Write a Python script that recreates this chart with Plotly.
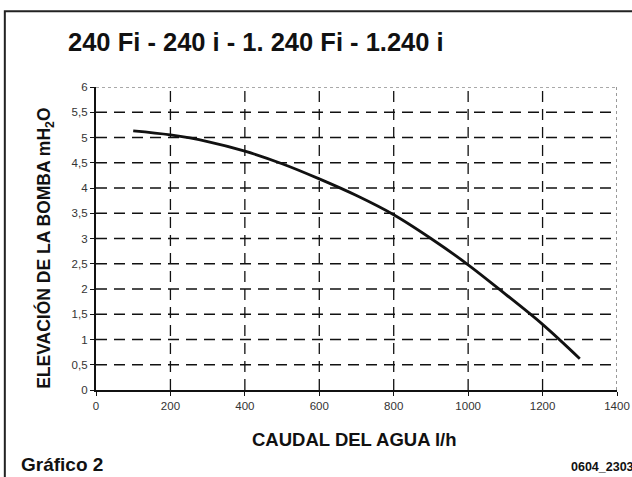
import plotly.graph_objects as go

# pump head curve
caudal = [100, 200, 300, 400, 500, 600, 700, 800, 900, 1000, 1100, 1200, 1300]
elevacion = [5.13, 5.05, 4.92, 4.73, 4.48, 4.18, 3.85, 3.47, 3.0, 2.48, 1.9, 1.3, 0.62]

x_ticks = [0, 200, 400, 600, 800, 1000, 1200, 1400]
y_ticks = [0, 0.5, 1, 1.5, 2, 2.5, 3, 3.5, 4, 4.5, 5, 5.5, 6]
y_ticklabels = ["0", "0,5", "1", "1,5", "2", "2,5", "3", "3,5", "4", "4,5", "5", "5,5", "6"]

FONT = "Liberation Sans, Arial, sans-serif"
INK = "#111111"
DASH = "11px,7px"

fig = go.Figure()
fig.add_trace(go.Scatter(x=caudal, y=elevacion, mode="lines",
                         line=dict(color=INK, width=2.8, shape="spline"),
                         showlegend=False))

# dashed grid drawn as shapes so the dash pattern matches the print
for xv in x_ticks[1:-1]:
    fig.add_shape(type="line", x0=xv, x1=xv, y0=0, y1=6, layer="below",
                  line=dict(color=INK, width=1.3, dash=DASH))
for yv in y_ticks[1:-1]:
    fig.add_shape(type="line", x0=0, x1=1400, y0=yv, y1=yv, layer="below",
                  line=dict(color=INK, width=1.3, dash=DASH))
# frame: top/right dotted, left/bottom solid axis lines
fig.add_shape(type="line", x0=0, x1=1400, y0=6, y1=6,
              line=dict(color="#555", width=1.2, dash="dot"))
fig.add_shape(type="line", x0=1400, x1=1400, y0=0, y1=6,
              line=dict(color="#555", width=1.2, dash="dot"))

# outer page border: left + top edges as one open path
fig.add_shape(type="path", xref="paper", yref="paper",
              path="M -0.175,-0.3 L -0.175,1.25 L 1.03,1.25",
              line=dict(color="#222", width=2))

fig.update_xaxes(range=[0, 1400], tickvals=x_ticks, showgrid=False, zeroline=False,
                 showline=True, linecolor=INK, linewidth=2.2, automargin=False,
                 ticks="outside", ticklen=4, tickcolor=INK,
                 tickfont=dict(family=FONT, size=11.5, color="#333"))
fig.update_yaxes(range=[0, 6], tickvals=y_ticks, ticktext=y_ticklabels,
                 showgrid=False, zeroline=False, automargin=False,
                 showline=True, linecolor=INK, linewidth=2.2,
                 ticks="outside", ticklen=4, tickcolor=INK,
                 tickfont=dict(family=FONT, size=11.5, color="#333"))

fig.add_annotation(xref="paper", yref="paper", x=-0.057, y=1.149,
                   xanchor="left", yanchor="middle", showarrow=False,
                   text="<b>240 Fi - 240 i - 1. 240 Fi - 1.240 i</b>",
                   font=dict(family=FONT, size=25.5, color=INK))
fig.add_annotation(xref="paper", yref="paper", x=0.497, y=-0.165,
                   xanchor="center", yanchor="middle", showarrow=False,
                   text="<b>CAUDAL DEL AGUA l/h</b>",
                   font=dict(family=FONT, size=18.5, color=INK))
fig.add_annotation(xref="paper", yref="paper", x=-0.098, y=0.469,
                   xanchor="center", yanchor="middle", showarrow=False, textangle=-90,
                   text="<b>ELEVACIÓN DE LA BOMBA mH<sub>2</sub>O</b>",
                   font=dict(family=FONT, size=17.5, color=INK))
fig.add_annotation(xref="paper", yref="paper", x=-0.148, y=-0.2475,
                   xanchor="left", yanchor="middle", showarrow=False,
                   text="<b>Gráfico 2</b>", font=dict(family=FONT, size=19, color=INK))
fig.add_annotation(xref="paper", yref="paper", x=1.036, y=-0.254,
                   xanchor="right", yanchor="middle", showarrow=False,
                   text="<b>0604_2303</b>", font=dict(family=FONT, size=12.5, color=INK))

fig.update_layout(width=632, height=477, paper_bgcolor="white", plot_bgcolor="white",
                  margin=dict(l=96, r=15, t=87, b=87), font=dict(family=FONT))
# drop the default 8px body margin so the figure sits flush with the window
fig.write_html("out.html", config={"displayModeBar": False},
               post_script="document.body.style.margin='0';")
